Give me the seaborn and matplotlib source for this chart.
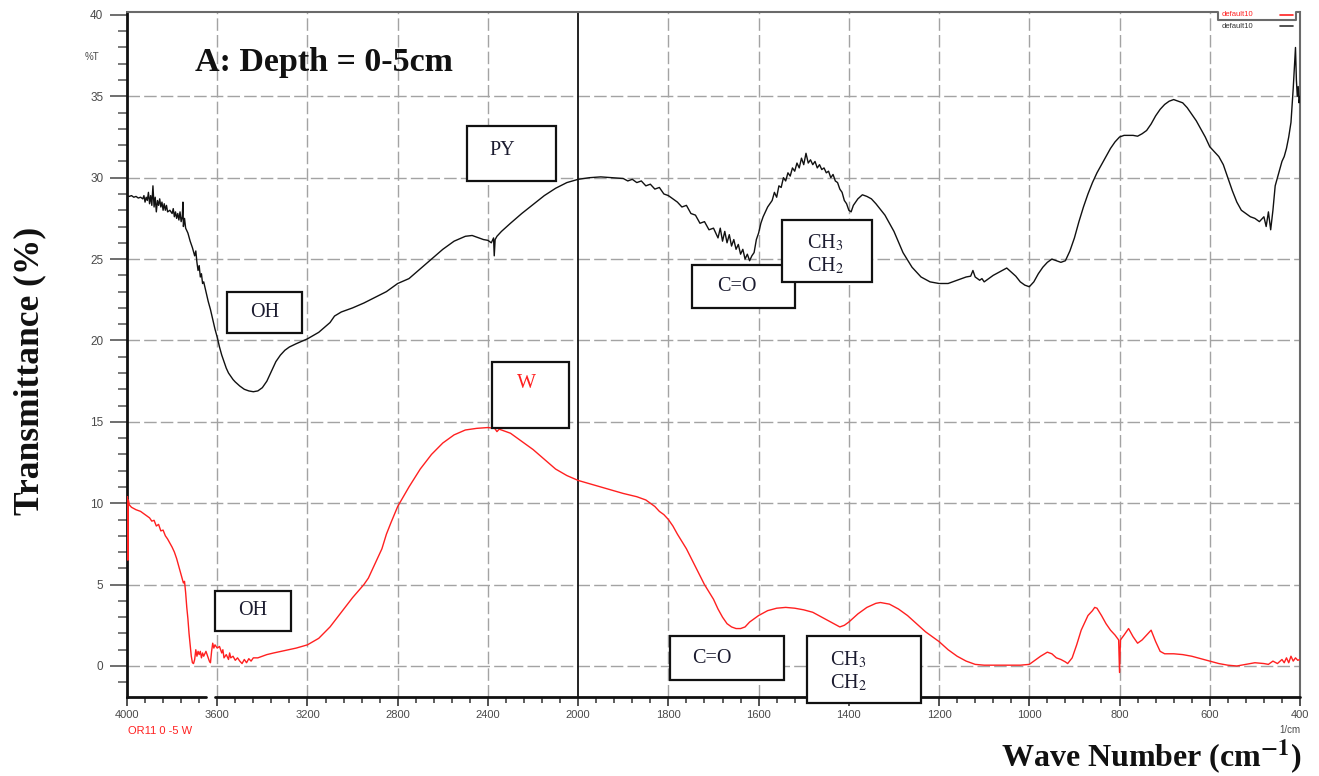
import numpy as np
import pandas as pd
import matplotlib
matplotlib.use("Agg")
import matplotlib.pyplot as plt
import seaborn as sns
from matplotlib.patches import Rectangle
from matplotlib.lines import Line2D
from matplotlib.ticker import FixedLocator, FixedFormatter

sns.set_theme(style="ticks")
plt.rcParams['font.family'] = ['Liberation Sans', 'DejaVu Sans']
plt.rcParams['mathtext.fontset'] = 'stix'

# ---- spectrum PY (black) ----
py_wavenumber = [
    4000, 3990, 3980, 3970, 3960, 3950, 3940, 3930, 3925, 3920, 3915, 3910, 3905, 3900,
    3895, 3890, 3885, 3880, 3875, 3870, 3865, 3860, 3855, 3850, 3845, 3840, 3835, 3830,
    3825, 3820, 3810, 3800, 3795, 3790, 3785, 3780, 3775, 3770, 3765, 3760, 3755, 3752,
    3750, 3745, 3740, 3730, 3720, 3710, 3700, 3695, 3690, 3685, 3680, 3675, 3670, 3665,
    3660, 3650, 3640, 3630, 3620, 3610, 3600, 3590, 3580, 3570, 3560, 3550, 3540, 3530,
    3520, 3500, 3480, 3460, 3440, 3420, 3400, 3380, 3360, 3340, 3320, 3300, 3280, 3250,
    3200, 3150, 3100, 3080, 3050, 3020, 3000, 2950, 2900, 2850, 2800, 2750, 2700, 2650,
    2600, 2550, 2500, 2470, 2450, 2420, 2400, 2385, 2375, 2372, 2368, 2360, 2340, 2300,
    2250, 2200, 2150, 2100, 2050, 2000, 1975, 1950, 1925, 1900, 1890, 1880, 1870, 1860,
    1850, 1840, 1830, 1820, 1810, 1800, 1790, 1780, 1770, 1760, 1750, 1740, 1730, 1720,
    1710, 1700, 1690, 1685, 1680, 1675, 1670, 1665, 1660, 1655, 1650, 1645, 1640, 1635,
    1630, 1625, 1620, 1615, 1610, 1605, 1600, 1595, 1590, 1580, 1570, 1565, 1560, 1555,
    1550, 1545, 1540, 1535, 1530, 1525, 1520, 1515, 1510, 1505, 1500, 1495, 1490, 1485,
    1480, 1475, 1470, 1465, 1460, 1455, 1450, 1445, 1440, 1435, 1430, 1425, 1420, 1415,
    1410, 1405, 1400, 1395, 1390, 1380, 1370, 1360, 1350, 1340, 1320, 1300, 1280, 1260,
    1240, 1220, 1200, 1180, 1160, 1140, 1130, 1125, 1120, 1110, 1105, 1100, 1090, 1080,
    1060, 1050, 1040, 1030, 1020, 1010, 1000, 990, 980, 970, 960, 950, 940, 930,
    920, 910, 900, 890, 880, 870, 860, 850, 840, 830, 820, 810, 800, 790,
    780, 770, 760, 750, 740, 730, 720, 710, 700, 690, 680, 670, 660, 650,
    640, 630, 620, 610, 600, 590, 580, 570, 560, 550, 540, 530, 520, 510,
    500, 490, 480, 475, 470, 465, 460, 455, 450, 445, 440, 435, 430, 425,
    420, 415, 412, 410, 408, 406, 404, 402, 400]
py_transmittance = [
    28.9, 28.85, 28.9, 28.8, 28.85, 28.75, 28.8, 28.7, 28.9, 28.5, 28.8, 28.6, 29.1, 28.4,
    28.9, 28.3, 29.5, 28.2, 28.8, 27.9, 28.6, 28.3, 28.7, 28.2, 28.5, 28.0, 28.4, 28.0,
    28.3, 27.9, 28.0, 27.8, 28.1, 27.6, 27.9, 27.5, 27.8, 27.4, 27.9, 27.3, 27.6, 28.5,
    27.0, 27.5, 26.9, 26.6, 26.1, 25.7, 25.2, 25.5, 24.8, 24.3, 24.6, 23.9, 24.1, 23.5,
    23.6, 23.0, 22.4, 21.9, 21.3, 20.7, 20.2, 19.6, 19.1, 18.7, 18.3, 18.0, 17.8, 17.6,
    17.45, 17.2, 17.0, 16.9, 16.85, 16.9, 17.1, 17.5, 18.1, 18.7, 19.1, 19.4, 19.6, 19.8,
    20.1, 20.5, 21.1, 21.5, 21.75, 21.9, 22.0, 22.3, 22.65, 23.0, 23.5, 23.8, 24.4, 25.0,
    25.6, 26.1, 26.4, 26.45, 26.35, 26.2, 26.15, 26.0, 26.3, 25.2, 26.2, 26.4, 26.7, 27.2,
    27.8, 28.35, 28.9, 29.35, 29.7, 29.9, 30.0, 30.05, 30.0, 29.95, 29.8, 29.9, 29.7, 29.8,
    29.5, 29.6, 29.3, 29.4, 29.0, 28.9, 28.7, 28.5, 28.2, 28.3, 27.8, 27.7, 27.2, 27.3,
    26.8, 26.9, 26.3, 26.9, 26.1, 26.7, 26.0, 26.5, 25.8, 26.2, 25.6, 25.9, 25.3, 25.6,
    25.0, 25.3, 24.9, 25.2, 25.4, 26.2, 26.6, 27.2, 27.6, 28.2, 28.6, 29.1, 28.8, 29.5,
    29.4, 30.0, 29.8, 30.3, 30.1, 30.6, 30.4, 30.9, 30.6, 31.2, 30.8, 31.5, 30.9, 31.1,
    30.8, 31.0, 30.6, 30.8, 30.5, 30.6, 30.3, 30.4, 30.0, 30.2, 29.8, 29.7, 29.3, 29.1,
    28.6, 28.4, 28.0, 27.9, 28.3, 28.7, 28.95, 28.85, 28.7, 28.4, 27.7, 26.7, 25.4, 24.5,
    23.9, 23.6, 23.5, 23.5, 23.7, 23.9, 23.95, 24.3, 23.9, 23.7, 23.8, 23.6, 23.8, 24.0,
    24.3, 24.45, 24.2, 23.95, 23.6, 23.4, 23.3, 23.6, 24.1, 24.5, 24.8, 25.0, 24.9, 24.8,
    24.9, 25.5, 26.3, 27.3, 28.2, 29.0, 29.7, 30.3, 30.8, 31.3, 31.8, 32.2, 32.5, 32.6,
    32.6, 32.6, 32.55, 32.7, 32.9, 33.3, 33.8, 34.2, 34.5, 34.7, 34.8, 34.7, 34.6, 34.3,
    33.9, 33.5, 33.0, 32.5, 31.9, 31.6, 31.3, 30.8, 30.0, 29.2, 28.5, 28.0, 27.8, 27.6,
    27.5, 27.3, 27.6, 27.0, 27.9, 26.8, 28.0, 29.5, 30.0, 30.5, 31.0, 31.3, 31.8, 32.5,
    33.4, 35.5, 37.0, 38.0, 36.0, 35.0, 35.6, 34.6, 35.0]

# ---- spectrum W (red) ----
w_wavenumber = [
    4000, 3998, 3996, 3994, 3990, 3980, 3960, 3940, 3920, 3900, 3890, 3880, 3870, 3860,
    3850, 3840, 3830, 3820, 3810, 3800, 3790, 3780, 3770, 3760, 3750, 3745, 3740, 3735,
    3730, 3725, 3720, 3715, 3710, 3705, 3700, 3695, 3690, 3685, 3680, 3675, 3670, 3665,
    3660, 3650, 3640, 3635, 3630, 3625, 3620, 3615, 3610, 3600, 3590, 3580, 3575, 3570,
    3560, 3550, 3545, 3540, 3530, 3520, 3510, 3500, 3490, 3480, 3470, 3460, 3450, 3440,
    3420, 3400, 3380, 3350, 3300, 3250, 3200, 3150, 3100, 3050, 3000, 2950, 2930, 2900,
    2870, 2850, 2830, 2800, 2750, 2700, 2650, 2600, 2550, 2500, 2450, 2400, 2370, 2360,
    2350, 2300, 2250, 2200, 2150, 2100, 2050, 2000, 1950, 1900, 1870, 1850, 1830, 1820,
    1810, 1800, 1790, 1780, 1760, 1740, 1720, 1700, 1690, 1680, 1670, 1660, 1650, 1640,
    1630, 1620, 1600, 1580, 1560, 1540, 1520, 1500, 1480, 1460, 1440, 1420, 1410, 1400,
    1380, 1360, 1340, 1330, 1310, 1290, 1270, 1250, 1230, 1200, 1180, 1160, 1140, 1120,
    1100, 1080, 1050, 1020, 1000, 990, 975, 960, 950, 940, 930, 920, 915, 905,
    895, 885, 870, 860, 855, 850, 840, 830, 820, 810, 802, 800, 798, 790,
    780, 770, 760, 750, 740, 730, 720, 710, 700, 680, 660, 640, 620, 600,
    580, 560, 540, 520, 500, 480, 470, 460, 450, 440, 435, 430, 425, 420,
    415, 410, 405, 400]
w_transmittance = [
    10.1, 10.4, 6.5, 10.2, 9.9, 9.75, 9.6, 9.5, 9.3, 9.1, 8.9, 8.95, 8.6, 8.7,
    8.3, 8.35, 8.0, 7.8, 7.55, 7.3, 7.0, 6.6, 6.1, 5.6, 5.1, 5.2, 4.5, 3.6,
    2.9, 2.0, 1.3, 0.6, 0.2, 0.15, 0.4, 1.0, 0.6, 0.9, 0.7, 0.9, 0.5, 0.8,
    0.6, 0.9, 0.5, 0.3, 0.2, 0.9, 1.4, 1.1, 1.3, 1.1, 1.2, 0.8, 1.0, 0.5,
    0.7, 0.4, 0.8, 0.5, 0.6, 0.35, 0.5, 0.3, 0.15, 0.4, 0.2, 0.45, 0.3, 0.5,
    0.5, 0.6, 0.7, 0.8, 0.95, 1.1, 1.3, 1.7, 2.4, 3.3, 4.2, 5.0, 5.4, 6.3,
    7.2, 8.1, 8.8, 9.8, 11.0, 12.1, 13.0, 13.7, 14.2, 14.5, 14.6, 14.65, 14.6, 14.4,
    14.55, 14.3, 13.8, 13.3, 12.7, 12.1, 11.7, 11.4, 11.0, 10.6, 10.4, 10.2, 9.8, 9.5,
    9.3, 9.0, 8.6, 8.1, 7.2, 6.1, 5.0, 4.1, 3.5, 3.0, 2.6, 2.4, 2.3, 2.3,
    2.4, 2.7, 3.1, 3.4, 3.55, 3.6, 3.55, 3.45, 3.3, 3.0, 2.7, 2.4, 2.5, 2.7,
    3.2, 3.6, 3.85, 3.9, 3.8, 3.5, 3.1, 2.6, 2.1, 1.5, 1.0, 0.6, 0.3, 0.1,
    0.05, 0.05, 0.05, 0.05, 0.1, 0.3, 0.6, 0.85, 0.75, 0.5, 0.4, 0.25, 0.15, 0.5,
    1.3, 2.2, 3.1, 3.4, 3.6, 3.55, 3.1, 2.6, 2.2, 1.9, 1.6, -0.4, 1.6, 1.9,
    2.3, 1.8, 1.4, 1.6, 1.9, 2.2, 1.5, 0.9, 0.75, 0.75, 0.7, 0.6, 0.45, 0.3,
    0.15, 0.05, 0.0, 0.1, 0.2, 0.15, 0.1, 0.3, 0.15, 0.4, 0.2, 0.5, 0.2, 0.6,
    0.3, 0.5, 0.35, 0.4]

x_major = [4000, 3600, 3200, 2800, 2400, 2000, 1800, 1600, 1400, 1200, 1000, 800, 600, 400]
x_major_labels = [str(v) for v in x_major]
y_major = [0, 5, 10, 15, 20, 25, 30, 35, 40]

# (label, left, right, bottom, top, text x, text y, colour)
annotations = [
    ("PY", 2493, 2098, 29.80, 33.18, 2335, 31.65, "#1b1b2f"),
    ("OH", 3557, 3224, 20.46, 22.98, 3388, 21.69, "#1b1b2f"),
    ("C=O", 1747, 1519, 22.00, 24.64, 1648, 23.29, "#1b1b2f"),
    ("CH$_3$\nCH$_2$", 1548, 1348, 23.59, 27.40, 1452, 25.31, "#1b1b2f"),
    ("W", 2382, 2041, 14.62, 18.68, 2227, 17.37, "#ff2020"),
    ("OH", 3610, 3273, 2.15, 4.61, 3441, 3.38, "#1b1b2f"),
    ("C=O", 1796, 1543, -0.86, 1.84, 1703, 0.49, "#1b1b2f"),
    ("CH$_3$\nCH$_2$", 1492, 1240, -2.27, 1.84, 1401, -0.31, "#1b1b2f"),
]

# Instrument-style axis: the region below 2000 1/cm is expanded twofold
def fwd(w):
    w = np.asarray(w, dtype=float)
    return np.where(w >= 2000, w, 2 * w - 2000)

def inv(u):
    u = np.asarray(u, dtype=float)
    return np.where(u >= 2000, u, (u + 2000) / 2)

W, H = 1319, 776
fig = plt.figure(figsize=(W / 100, H / 100), dpi=100)
ax = fig.add_axes([127 / W, 1 - 697 / H, (1300 - 127) / W, (697 - 12) / H])
ax.set_xscale('function', functions=(fwd, inv))
ax.set_xlim(4000, 400)
ax.set_ylim(-1.905, 40.18)

grid_kw = dict(color="#a3a3a3", lw=1.0, ls=(0, (9, 3)), zorder=0)
for xv in x_major[1:-1]:
    if xv != 2000:
        ax.axvline(xv, **grid_kw)
for yv in y_major[:-1]:
    ax.axhline(yv, **grid_kw)
ax.axvline(2000, color="#111111", lw=1.3, zorder=1)

df_py = pd.DataFrame({"wn": py_wavenumber, "T": py_transmittance})
df_w = pd.DataFrame({"wn": w_wavenumber, "T": w_transmittance})
sns.lineplot(data=df_py, x="wn", y="T", sort=False, estimator=None,
             color="#111111", lw=1.0, ax=ax, zorder=3)
sns.lineplot(data=df_w, x="wn", y="T", sort=False, estimator=None,
             color="#ff2020", lw=1.0, ax=ax, zorder=3)
ax.set_xlabel("")
ax.set_ylabel("")

# ticks
x_minor = [v for v in range(4000, 2000, -80) if v not in x_major] + \
          [v for v in range(2000, 399, -40) if v not in x_major]
ax.xaxis.set_major_locator(FixedLocator(x_major))
ax.xaxis.set_major_formatter(FixedFormatter(x_major_labels))
ax.xaxis.set_minor_locator(FixedLocator(x_minor))
ax.yaxis.set_major_locator(FixedLocator(y_major))
ax.yaxis.set_minor_locator(FixedLocator([v for v in range(-1, 41) if v % 5]))
ax.tick_params(axis="x", which="major", length=6.5, width=1.2, color="#333333",
               labelsize=8, labelcolor="#4a4a4a", pad=3, direction="out")
ax.tick_params(axis="x", which="minor", length=4.3, width=1.1, color="#333333", direction="out")
ax.tick_params(axis="y", which="major", length=12, width=1.2, color="#555555",
               labelsize=8.5, labelcolor="#4a4a4a", pad=5, direction="out")
ax.tick_params(axis="y", which="minor", length=6.5, width=1.1, color="#555555", direction="out")

# frame
ax.spines["left"].set_linewidth(2.0)
ax.spines["left"].set_color("#111111")
ax.spines["right"].set_linewidth(1.5)
ax.spines["right"].set_color("#6a6a6a")
ax.spines["top"].set_visible(False)
ax.spines["bottom"].set_visible(False)
xa, xb, yn = (1218 - 127) / 1173, (1296 - 127) / 1173, 1 - 8 / 685
ax.add_line(Line2D([0, xa, xa, xb, xb, 1], [1, 1, yn, yn, 1, 1], transform=ax.transAxes,
                   color="#6a6a6a", lw=1.5, clip_on=False, zorder=6))
bt = ax.get_xaxis_transform()
ax.add_line(Line2D([4000, 3650], [0, 0], transform=bt, color="#111111", lw=2.0,
                   clip_on=False, zorder=6))
ax.add_line(Line2D([3610, 400], [0, 0], transform=bt, color="#111111", lw=2.0,
                   clip_on=False, zorder=6))

# labelled boxes
for label, x0, x1, y0, y1, tx, ty, col in annotations:
    ax.add_patch(Rectangle((x0, y0), x1 - x0, y1 - y0, transform=ax.transData,
                           facecolor="white", edgecolor="#111111", lw=1.6,
                           clip_on=False, zorder=7))
    ax.text(tx, ty, label, ha="center", va="center", fontsize=14.5, color=col,
            family="Liberation Serif", linespacing=1.15, zorder=8, clip_on=False)

# legend entries of the instrument plot
fig.text(1222 / W, 1 - 15 / H, "default10", fontsize=5.5, color="#ff2020", va="center")
fig.text(1222 / W, 1 - 26 / H, "default10", fontsize=5.5, color="#333333", va="center")
fig.add_artist(Line2D([1280 / W, 1293 / W], [1 - 15 / H] * 2, color="#ff2020", lw=1.2))
fig.add_artist(Line2D([1280 / W, 1293 / W], [1 - 26 / H] * 2, color="#333333", lw=1.2))

fig.text(92 / W, 1 - 57 / H, "%T", fontsize=7, color="#4a4a4a", ha="center", va="center")
fig.text(1300 / W, 1 - 730 / H, "1/cm", fontsize=7, color="#4a4a4a", ha="right", va="center")
fig.text(128 / W, 1 - 731 / H, "OR11 0 -5 W", fontsize=8, color="#ff2020", ha="left", va="center")

fig.text(195 / W, 1 - 62 / H, "A: Depth = 0-5cm", fontsize=24.5, weight="bold",
         family="Liberation Serif", va="center", ha="left", color="#111111")
fig.text(1302 / W, 1 - 767 / H, r"Wave Number (cm$^{\mathbf{-1}}$)", fontsize=23,
         weight="bold", family="Liberation Serif", va="baseline", ha="right", color="#111111")
fig.text(30 / W, 1 - 371 / H, "Transmittance (%)", fontsize=25.5, weight="bold",
         family="Liberation Serif", va="center", ha="center", rotation=90, color="#111111")

fig.savefig("out.png", dpi=100, facecolor="white")
